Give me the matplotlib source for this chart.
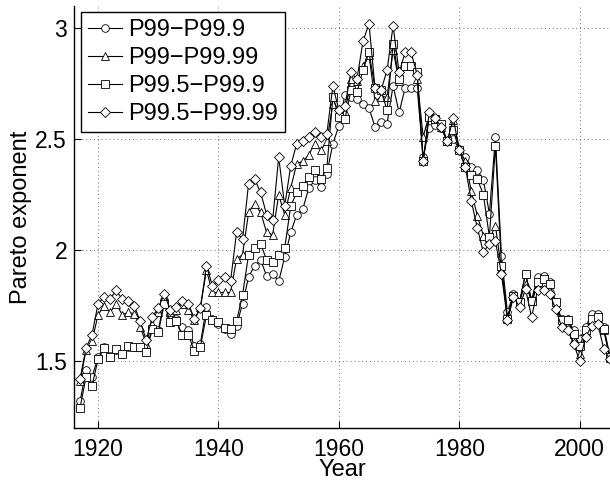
import numpy as np
import matplotlib.pyplot as plt
from matplotlib.ticker import FormatStrFormatter

plt.rcParams['font.family'] = ['Liberation Sans', 'DejaVu Sans']

# Years
years = list(range(1917, 2006))

# Pareto exponent for each income band
p99_p999 = [1.32, 1.46, 1.43, 1.52, 1.565, 1.525, 1.55, 1.535, 1.565, 1.565,
            1.565, 1.55, 1.65, 1.64, 1.775, 1.71, 1.69, 1.655, 1.64, 1.57,
            1.58, 1.745, 1.69, 1.67, 1.645, 1.625, 1.66, 1.76, 1.88, 1.93,
            1.955, 1.885, 1.895, 1.86, 1.97, 2.08, 2.16, 2.185, 2.28, 2.315,
            2.285, 2.345, 2.48, 2.56, 2.70, 2.69, 2.68, 2.66, 2.64, 2.555,
            2.575, 2.57, 2.74, 2.62, 2.73, 2.73, 2.73, 2.42, 2.55, 2.565,
            2.55, 2.49, 2.50, 2.455, 2.42, 2.375, 2.36, 2.315, 2.165, 2.51,
            1.975, 1.72, 1.805, 1.765, 1.895, 1.775, 1.88, 1.885, 1.855, 1.765,
            1.69, 1.69, 1.64, 1.60, 1.655, 1.715, 1.715, 1.655, 1.525]

p99_p9999 = [1.41, 1.55, 1.59, 1.71, 1.75, 1.72, 1.76, 1.71, 1.72, 1.715,
             1.655, 1.58, 1.67, 1.72, 1.79, 1.72, 1.73, 1.76, 1.73, 1.685,
             1.745, 1.91, 1.81, 1.81, 1.81, 1.81, 1.96, 1.98, 2.17, 2.21,
             2.17, 2.08, 2.07, 2.25, 2.16, 2.28, 2.39, 2.40, 2.43, 2.48,
             2.45, 2.49, 2.66, 2.62, 2.62, 2.77, 2.76, 2.83, 2.88, 2.67,
             2.69, 2.69, 2.90, 2.76, 2.83, 2.83, 2.77, 2.51, 2.61, 2.59,
             2.555, 2.49, 2.585, 2.455, 2.40, 2.265, 2.155, 2.065, 2.05, 2.11,
             1.915, 1.70, 1.795, 1.77, 1.85, 1.77, 1.84, 1.85, 1.83, 1.75,
             1.67, 1.665, 1.60, 1.535, 1.63, 1.685, 1.685, 1.64, 1.515]

p995_p999 = [1.29, 1.43, 1.39, 1.51, 1.56, 1.52, 1.555, 1.535, 1.57, 1.565,
             1.565, 1.54, 1.645, 1.63, 1.76, 1.675, 1.68, 1.62, 1.62, 1.545,
             1.565, 1.71, 1.685, 1.675, 1.65, 1.645, 1.68, 1.80, 1.98, 2.01,
             2.03, 1.955, 1.945, 1.98, 2.01, 2.20, 2.26, 2.29, 2.33, 2.36,
             2.32, 2.37, 2.69, 2.60, 2.59, 2.72, 2.71, 2.81, 2.89, 2.73,
             2.72, 2.63, 2.93, 2.77, 2.83, 2.83, 2.80, 2.40, 2.60, 2.59,
             2.57, 2.49, 2.54, 2.45, 2.375, 2.34, 2.32, 2.25, 2.06, 2.47,
             1.93, 1.69, 1.795, 1.765, 1.895, 1.77, 1.855, 1.87, 1.85, 1.765,
             1.685, 1.685, 1.625, 1.57, 1.64, 1.69, 1.70, 1.645, 1.52]

p995_p9999 = [1.42, 1.56, 1.62, 1.76, 1.79, 1.78, 1.82, 1.78, 1.77, 1.75,
              1.68, 1.595, 1.70, 1.74, 1.805, 1.73, 1.745, 1.77, 1.76, 1.69,
              1.74, 1.93, 1.84, 1.865, 1.88, 1.86, 2.08, 2.05, 2.30, 2.32,
              2.26, 2.16, 2.135, 2.42, 2.20, 2.38, 2.48, 2.49, 2.51, 2.53,
              2.51, 2.525, 2.74, 2.63, 2.65, 2.80, 2.77, 2.94, 3.02, 2.73,
              2.72, 2.81, 3.01, 2.80, 2.89, 2.89, 2.79, 2.40, 2.62, 2.595,
              2.555, 2.49, 2.595, 2.45, 2.375, 2.22, 2.10, 1.99, 2.03, 2.04,
              1.895, 1.685, 1.79, 1.745, 1.825, 1.70, 1.82, 1.82, 1.805, 1.735,
              1.655, 1.64, 1.58, 1.50, 1.61, 1.66, 1.67, 1.555, 1.51]

series = [
    (p99_p999, 'o', 'P99\u2212P99.9'),
    (p99_p9999, '^', 'P99\u2212P99.99'),
    (p995_p999, 's', 'P99.5\u2212P99.9'),
    (p995_p9999, 'D', 'P99.5\u2212P99.99'),
]

fig = plt.figure(figsize=(6.1, 4.8), dpi=100)
ax = fig.add_axes([0.1213, 0.1083, 0.8784, 0.8796])

for valores, marcador, etiqueta in series:
    ms = 4.8 if marcador == 'D' else 5.5
    ax.plot(years, valores, color='black', linewidth=0.8, marker=marcador,
            markersize=ms, markerfacecolor='white', markeredgecolor='black',
            markeredgewidth=0.6, label=etiqueta)

ax.set_xlim(1916, 2005)
ax.set_ylim(1.2, 3.1)
ax.set_xticks([1920, 1940, 1960, 1980, 2000])
ax.set_yticks([1.5, 2, 2.5, 3])
ax.yaxis.set_major_formatter(FormatStrFormatter('%g'))

ax.grid(True, color='#707070', linestyle=(0, (1, 3)), linewidth=0.7)
ax.tick_params(direction='in', length=5, width=0.8, labelsize=16.5)
ax.tick_params(axis='x', pad=7)
ax.tick_params(axis='y', pad=5)
ax.spines['top'].set_visible(False)
ax.spines['right'].set_visible(False)
for lado in ['left', 'bottom']:
    ax.spines[lado].set_linewidth(1.0)

ax.set_xlabel('Year', fontsize=17, labelpad=-1)
ax.set_ylabel('Pareto exponent', fontsize=17, labelpad=2)

leg = ax.legend(loc='upper left', bbox_to_anchor=(0.013, 0.985),
                borderaxespad=0, fontsize=17, fancybox=False, framealpha=1,
                edgecolor='black', handlelength=1.45, handletextpad=0.25,
                labelspacing=0.25, borderpad=0.3)
leg.get_frame().set_linewidth(1.0)

fig.savefig('out.png', dpi=100)
